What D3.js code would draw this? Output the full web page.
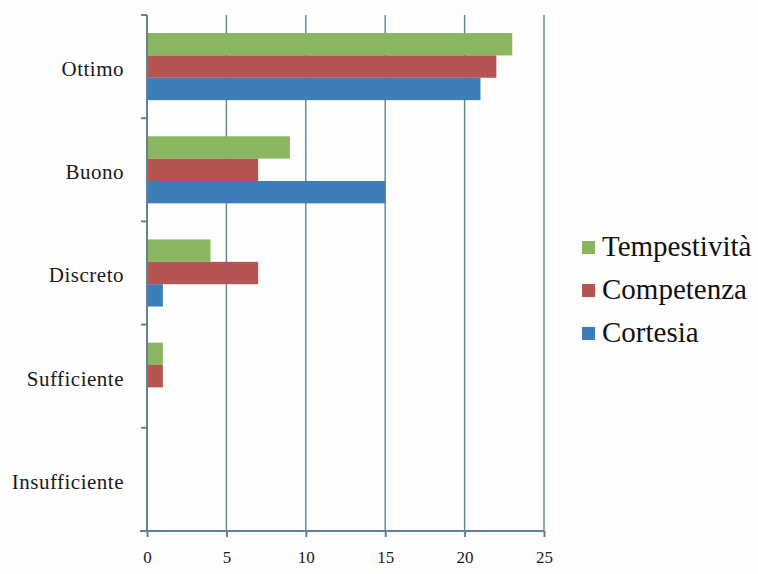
<!DOCTYPE html>
<html>
<head>
<meta charset="utf-8">
<script src="https://cdn.jsdelivr.net/npm/d3@7"></script>
<style>
  html, body { margin: 0; padding: 0; background: #fdfdfd; }
  svg { display: block; }
</style>
</head>
<body>
<script>
// Valutazione del servizio: numero di risposte per giudizio
const categories = ["Ottimo", "Buono", "Discreto", "Sufficiente", "Insufficiente"];
const seriesNames = ["Tempestività", "Competenza", "Cortesia"];
const tempestivita = [23, 9, 4, 1, 0];
const competenza = [22, 7, 7, 1, 0];
const cortesia = [21, 15, 1, 0, 0];
const xTicks = [0, 5, 10, 15, 20, 25];
const colors = ["#8ab65f", "#b65353", "#3d7db9"];

const seriesValues = [tempestivita, competenza, cortesia];
const serif = "'Liberation Serif', 'DejaVu Serif', serif";

const W = 758, H = 574;
const margin = { left: 147, right: 214, top: 15, bottom: 43 };
const plotW = W - margin.left - margin.right;
const plotH = H - margin.top - margin.bottom;

const svg = d3.select("body").append("svg")
  .attr("width", W).attr("height", H)
  .attr("font-family", serif);

const x = d3.scaleLinear().domain([0, 25]).range([margin.left, margin.left + plotW]);
const y = d3.scaleBand().domain(categories).range([margin.top, margin.top + plotH])
  .paddingInner(0.35).paddingOuter(0.175);
const yOuter = d3.scaleBand().domain(categories).range([margin.top, margin.top + plotH]);
const ySub = d3.scaleBand().domain(seriesNames).range([0, y.bandwidth()]);

const axisColor = "#5f8394";

// vertical gridlines
svg.append("g").selectAll("line")
  .data(xTicks.filter(d => d > 0))
  .join("line")
  .attr("x1", d => x(d)).attr("x2", d => x(d))
  .attr("y1", margin.top).attr("y2", margin.top + plotH)
  .attr("stroke", axisColor).attr("stroke-width", 1.4);

// bars
const groups = svg.append("g").selectAll("g")
  .data(categories)
  .join("g")
  .attr("transform", c => `translate(0,${y(c)})`);

groups.selectAll("rect")
  .data((c, i) => seriesNames.map((s, k) => ({ s, v: seriesValues[k][i], k })))
  .join("rect")
  .attr("x", x(0))
  .attr("y", d => ySub(d.s))
  .attr("width", d => x(d.v) - x(0))
  .attr("height", ySub.bandwidth())
  .attr("fill", d => colors[d.k]);

// category axis
const yAxis = svg.append("g");
yAxis.append("line")
  .attr("x1", x(0)).attr("x2", x(0))
  .attr("y1", margin.top).attr("y2", margin.top + plotH)
  .attr("stroke", axisColor).attr("stroke-width", 2);
yAxis.selectAll("line.tick")
  .data(categories.map(c => yOuter(c)).concat([margin.top + plotH]))
  .join("line")
  .attr("class", "tick")
  .attr("x1", x(0) - 6).attr("x2", x(0))
  .attr("y1", d => d).attr("y2", d => d)
  .attr("stroke", axisColor).attr("stroke-width", 2);
yAxis.selectAll("text")
  .data(categories)
  .join("text")
  .attr("x", 124)
  .attr("y", c => yOuter(c) + yOuter.bandwidth() / 2 + 2)
  .attr("dy", "0.35em")
  .attr("text-anchor", "end")
  .attr("font-size", 21)
  .attr("letter-spacing", 0.5)
  .attr("fill", "#1a1a1a")
  .text(c => c);

// value axis
const xAxis = svg.append("g")
  .attr("transform", `translate(0,${margin.top + plotH})`)
  .call(d3.axisBottom(x).tickValues(xTicks).tickSize(6).tickSizeOuter(0).tickPadding(14));
xAxis.select(".domain").remove();
xAxis.append("line")
  .attr("x1", x(0) - 7).attr("x2", x(25))
  .attr("stroke", axisColor).attr("stroke-width", 2);
xAxis.selectAll(".tick line").attr("stroke", axisColor).attr("stroke-width", 2);
xAxis.selectAll(".tick text")
  .attr("font-size", 17)
  .attr("font-family", serif)
  .attr("fill", "#1a1a1a");

// legend
const legend = svg.append("g").attr("transform", "translate(582,246)");
const items = legend.selectAll("g")
  .data(seriesNames)
  .join("g")
  .attr("transform", (d, i) => `translate(0,${i * 43})`);
items.append("rect")
  .attr("x", 0).attr("y", -5).attr("width", 13).attr("height", 13)
  .attr("fill", (d, i) => colors[i]);
items.append("text")
  .attr("x", 20).attr("y", 0).attr("dy", "0.35em")
  .attr("font-size", 29)
  .attr("fill", "#111")
  .text(d => d);
</script>
</body>
</html>
